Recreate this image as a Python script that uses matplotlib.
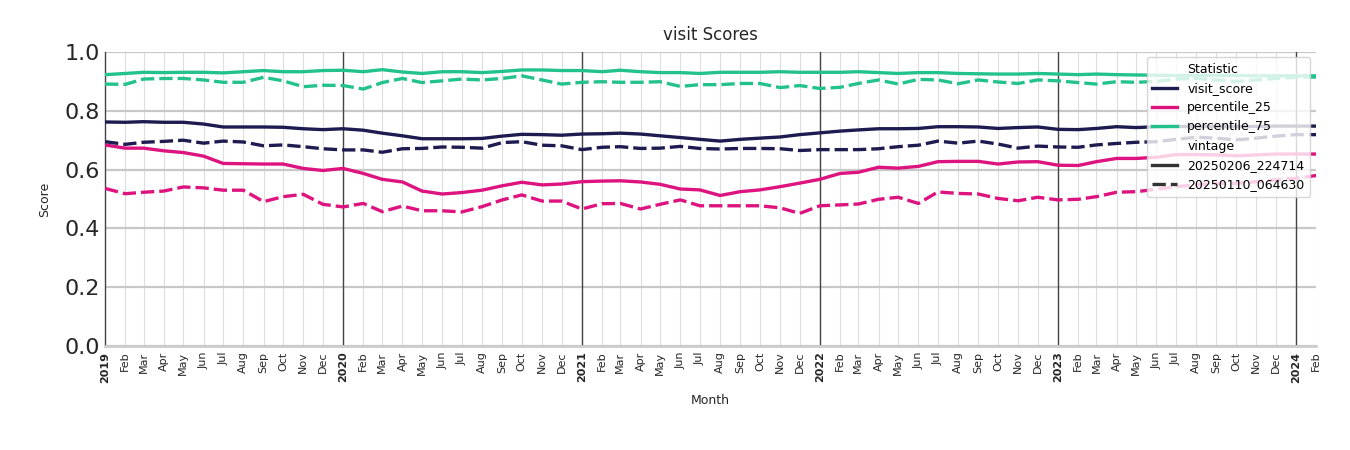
import numpy as np
import pandas as pd
import matplotlib
matplotlib.use("Agg")
import matplotlib.pyplot as plt
from matplotlib.lines import Line2D

# monthly values, Jan 2019 .. Feb 2024
months = pd.date_range("2019-01-01", "2024-02-01", freq="MS")

# vintage 20250206_224714 (solid)
visit_new = [0.762, 0.761, 0.763, 0.761, 0.761, 0.755, 0.745, 0.745, 0.745, 0.744, 0.739, 0.736,
             0.739, 0.734, 0.724, 0.715, 0.705, 0.705, 0.705, 0.706, 0.714, 0.720, 0.719, 0.717,
             0.721, 0.722, 0.724, 0.721, 0.715, 0.709, 0.703, 0.697, 0.703, 0.707, 0.711, 0.719,
             0.725, 0.731, 0.735, 0.739, 0.739, 0.740, 0.746, 0.746, 0.745, 0.740, 0.743, 0.745,
             0.737, 0.736, 0.740, 0.746, 0.743, 0.746, 0.747, 0.747, 0.746, 0.746, 0.747, 0.748,
             0.748, 0.748]
p25_new = [0.684, 0.673, 0.673, 0.664, 0.658, 0.646, 0.621, 0.620, 0.619, 0.619, 0.604, 0.597,
           0.604, 0.587, 0.567, 0.558, 0.527, 0.517, 0.522, 0.530, 0.545, 0.557, 0.548, 0.551,
           0.559, 0.561, 0.562, 0.558, 0.550, 0.534, 0.531, 0.512, 0.525, 0.531, 0.542, 0.554,
           0.567, 0.587, 0.591, 0.608, 0.605, 0.611, 0.627, 0.628, 0.628, 0.619, 0.626, 0.627,
           0.615, 0.614, 0.627, 0.638, 0.638, 0.642, 0.651, 0.651, 0.650, 0.647, 0.650, 0.653,
           0.653, 0.653]
p75_new = [0.923, 0.927, 0.931, 0.930, 0.931, 0.931, 0.929, 0.933, 0.937, 0.933, 0.933, 0.937,
           0.938, 0.933, 0.940, 0.932, 0.927, 0.933, 0.933, 0.930, 0.934, 0.939, 0.939, 0.937,
           0.937, 0.933, 0.938, 0.933, 0.930, 0.930, 0.927, 0.931, 0.931, 0.931, 0.933, 0.931,
           0.931, 0.931, 0.933, 0.930, 0.927, 0.930, 0.930, 0.927, 0.926, 0.925, 0.925, 0.927,
           0.925, 0.923, 0.925, 0.923, 0.922, 0.921, 0.920, 0.920, 0.920, 0.920, 0.919, 0.919,
           0.919, 0.919]

# vintage 20250110_064630 (dashed)
visit_old = [0.695, 0.686, 0.693, 0.696, 0.700, 0.690, 0.697, 0.694, 0.681, 0.684, 0.678, 0.671,
             0.667, 0.667, 0.659, 0.671, 0.672, 0.677, 0.676, 0.673, 0.692, 0.695, 0.683, 0.681,
             0.668, 0.676, 0.678, 0.672, 0.673, 0.679, 0.672, 0.670, 0.672, 0.672, 0.671, 0.665,
             0.668, 0.668, 0.668, 0.671, 0.678, 0.683, 0.697, 0.690, 0.697, 0.687, 0.673, 0.680,
             0.677, 0.676, 0.684, 0.689, 0.693, 0.695, 0.703, 0.710, 0.707, 0.701, 0.707, 0.714,
             0.719, 0.719]
p25_old = [0.536, 0.518, 0.523, 0.527, 0.541, 0.538, 0.530, 0.530, 0.491, 0.508, 0.516, 0.482,
           0.473, 0.485, 0.457, 0.476, 0.460, 0.460, 0.456, 0.474, 0.497, 0.514, 0.493, 0.493,
           0.466, 0.484, 0.485, 0.466, 0.482, 0.497, 0.477, 0.477, 0.477, 0.477, 0.470, 0.451,
           0.477, 0.480, 0.483, 0.499, 0.506, 0.485, 0.524, 0.519, 0.517, 0.502, 0.494, 0.506,
           0.497, 0.499, 0.508, 0.523, 0.525, 0.533, 0.542, 0.548, 0.553, 0.553, 0.559, 0.565,
           0.570, 0.580]
p75_old = [0.891, 0.890, 0.908, 0.910, 0.910, 0.905, 0.897, 0.897, 0.914, 0.902, 0.882, 0.887,
           0.886, 0.874, 0.896, 0.910, 0.896, 0.902, 0.908, 0.905, 0.910, 0.919, 0.905, 0.891,
           0.897, 0.899, 0.897, 0.897, 0.899, 0.883, 0.889, 0.889, 0.893, 0.893, 0.879, 0.886,
           0.876, 0.880, 0.893, 0.905, 0.891, 0.907, 0.905, 0.892, 0.905, 0.898, 0.893, 0.905,
           0.902, 0.896, 0.891, 0.899, 0.897, 0.900, 0.908, 0.910, 0.905, 0.900, 0.905, 0.910,
           0.914, 0.915]

stats = ["visit_score", "percentile_25", "percentile_75"]
colors = {"visit_score": "#1d1b4f", "percentile_25": "#dd137f", "percentile_75": "#23c28d"}
vintages = ["20250206_224714", "20250110_064630"]
series = {
    ("visit_score", vintages[0]): visit_new,
    ("percentile_25", vintages[0]): p25_new,
    ("percentile_75", vintages[0]): p75_new,
    ("visit_score", vintages[1]): visit_old,
    ("percentile_25", vintages[1]): p25_old,
    ("percentile_75", vintages[1]): p75_old,
}
dash_style = {vintages[0]: (None, None), vintages[1]: (4, 1.5)}

fig = plt.figure(figsize=(13.5, 4.5), dpi=100)
ax = fig.add_axes([0.0778, 0.2311, 0.8972, 0.6533])

for (stat, vint), vals in series.items():
    line, = ax.plot(months, vals, color=colors[stat], lw=2.4, zorder=3)
    if vint == vintages[1]:
        line.set_dashes(dash_style[vint])

ax.set_ylim(0, 1)
ax.set_xlim(months[0], months[-1])
ax.set_yticks(np.arange(0, 1.01, 0.2))
ax.tick_params(axis="y", labelsize=16, length=0, colors="#262626")
ax.yaxis.grid(True, color="#c8c8c8", lw=1.6, zorder=0)

# month ticks, years in bold
ax.set_xticks(months)
labels = [d.strftime("%Y") if d.month == 1 else d.strftime("%b") for d in months]
ax.set_xticklabels(labels, rotation=90, fontsize=8, color="#262626")
for lab, d in zip(ax.get_xticklabels(), months):
    if d.month == 1:
        lab.set_fontweight("bold")
ax.tick_params(axis="x", length=0, pad=4)
ax.xaxis.grid(True, color="#dddddd", lw=0.8, zorder=0)
for d in months:
    if d.month == 1 and d != months[0]:
        ax.axvline(d, color="#444444", lw=1.0, zorder=2)

for s in ["top", "right"]:
    ax.spines[s].set_visible(False)
ax.spines["left"].set_color("#444444")
ax.spines["left"].set_linewidth(1.0)
ax.spines["bottom"].set_color("#cccccc")
ax.spines["bottom"].set_linewidth(2.0)

ax.set_title("visit Scores", fontsize=12, color="#262626", pad=9)
ax.set_xlabel("Month", fontsize=9, color="#262626", labelpad=8)
ax.set_ylabel("Score", fontsize=9, color="#262626", labelpad=10)

# seaborn-like legend with two sub-titles
handles = [Line2D([], [], color="none")]
names = ["Statistic"]
for s in stats:
    handles.append(Line2D([], [], color=colors[s], lw=2.4))
    names.append(s)
handles.append(Line2D([], [], color="none"))
names.append("vintage")
handles.append(Line2D([], [], color="#333333", lw=2.4))
names.append(vintages[0])
h = Line2D([], [], color="#333333", lw=2.4)
h.set_dashes(dash_style[vintages[1]])
handles.append(h)
names.append(vintages[1])
leg = ax.legend(handles, names, loc="upper right", fontsize=9, frameon=True,
                framealpha=0.8, edgecolor="#cccccc", borderpad=0.45,
                labelspacing=0.5, handlelength=2.0, borderaxespad=0,
                bbox_to_anchor=(0.995, 0.983))
leg.set_zorder(5)

fig.savefig("out.png", dpi=100)
